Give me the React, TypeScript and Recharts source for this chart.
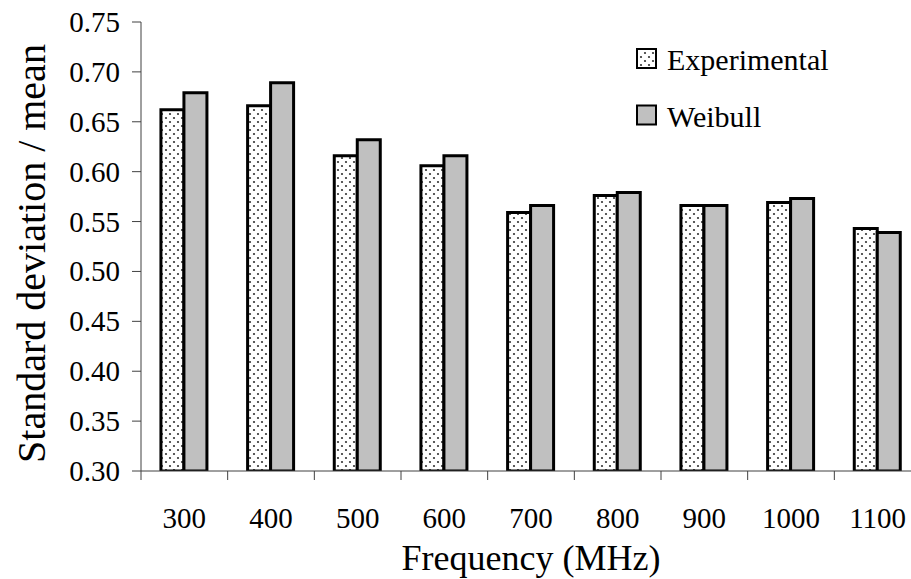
import React from 'react';
import { BarChart, Bar, XAxis, YAxis, Legend } from 'recharts';

const frequencies = ['300', '400', '500', '600', '700', '800', '900', '1000', '1100'];
const experimental = [0.662, 0.666, 0.616, 0.606, 0.559, 0.576, 0.566, 0.569, 0.543];
const weibull = [0.679, 0.689, 0.632, 0.616, 0.566, 0.579, 0.566, 0.573, 0.539];
const yTicks = [0.3, 0.35, 0.4, 0.45, 0.5, 0.55, 0.6, 0.65, 0.7, 0.75];
const seriesNames = ['Experimental', 'Weibull'];

const data = frequencies.map((f, i) => ({
  freq: f,
  Experimental: experimental[i],
  Weibull: weibull[i],
}));

const FONT = '"Liberation Serif", "Times New Roman", serif';
const AXIS_COLOR = '#404040';
const fills: Record<string, string> = {
  Experimental: 'url(#dots)',
  Weibull: '#c0c0c0',
};
const textStyle = { fontFamily: FONT };

const XTick = (props: any) => {
  const { x, y, payload } = props;
  const off = payload && typeof payload.offset === 'number' ? payload.offset : 0;
  const edge = x - off;
  return (
    <g>
      <line x1={edge} x2={edge} y1={y - 9} y2={y} stroke={AXIS_COLOR} strokeWidth={1} />
      <text x={x} y={y + 48} textAnchor="middle" style={textStyle} fontSize={29} fill="#000">
        {payload.value}
      </text>
    </g>
  );
};

const YTick = (props: any) => {
  const { x, y, payload } = props;
  return (
    <text x={x} y={y} textAnchor="end" dominantBaseline="central" style={textStyle} fontSize={29} fill="#000">
      {Number(payload.value).toFixed(2)}
    </text>
  );
};

const LegendContent = () => (
  <svg width={230} height={110} style={{ display: 'block' }}>
    {seriesNames.map((name, i) => (
      <g key={name}>
        <rect x={2} y={6 + i * 56.5} width={19} height={19} fill={fills[name]} stroke="#000" strokeWidth={2} />
        <text x={32} y={27 + i * 56.5} style={textStyle} fontSize={30} fill="#000">
          {name}
        </text>
      </g>
    ))}
  </svg>
);

export default function App() {
  return (
    <div style={{ position: 'absolute', left: 0, top: 0, width: 911, height: 579, overflow: 'hidden', background: '#fff', fontFamily: FONT }}>
      <svg width={0} height={0} style={{ position: 'absolute' }}>
        <defs>
          <pattern id="dots" patternUnits="userSpaceOnUse" width={8} height={8}>
            <rect x={0} y={0} width={8} height={8} fill="#fff" />
            <circle cx={2} cy={2} r={1.1} fill="#333" />
            <circle cx={6} cy={6} r={1.1} fill="#333" />
          </pattern>
        </defs>
      </svg>
      <BarChart
        width={930}
        height={579}
        data={data}
        margin={{ top: 22, right: 9, left: 0, bottom: 0 }}
        barCategoryGap="23%"
        barGap={0}
        style={{ fontFamily: FONT }}
      >
        <XAxis
          dataKey="freq"
          height={108}
          tickSize={9}
          tickMargin={0}
          tickLine={false}
          axisLine={{ stroke: AXIS_COLOR, strokeWidth: 1 }}
          tick={<XTick />}
          interval={0}
          label={{
            value: 'Frequency (MHz)',
            content: (p: any) => {
              const vb = p.viewBox || {};
              return (
                <text x={vb.x + vb.width / 2} y={vb.y + 99} textAnchor="middle" style={textStyle} fontSize={36} fill="#000">
                  Frequency (MHz)
                </text>
              );
            },
          }}
        />
        <YAxis
          width={141}
          domain={[0.3, 0.75]}
          ticks={yTicks}
          interval={0}
          allowDataOverflow
          tickSize={9}
          tickMargin={12}
          tick={<YTick />}
          tickLine={{ stroke: AXIS_COLOR, strokeWidth: 1 }}
          axisLine={{ stroke: AXIS_COLOR, strokeWidth: 1 }}
          label={{
            value: 'Standard deviation / mean',
            content: (p: any) => {
              const vb = p.viewBox || {};
              const cx = vb.x + 45;
              const cy = vb.y + vb.height / 2 + 7;
              return (
                <text
                  x={cx}
                  y={cy}
                  transform={`rotate(-90, ${cx}, ${cy})`}
                  textAnchor="middle"
                  style={textStyle}
                  fontSize={40}
                  fill="#000"
                >
                  Standard deviation / mean
                </text>
              );
            },
          }}
        />
        <Legend
          layout="vertical"
          align="center"
          verticalAlign="middle"
          content={<LegendContent />}
          wrapperStyle={{ position: 'absolute', left: 635, top: 43, width: 230, height: 110 }}
        />
        {seriesNames.map((name) => (
          <Bar
            key={name}
            dataKey={name}
            fill={fills[name]}
            stroke="#000"
            strokeWidth={3}
            isAnimationActive={false}
          />
        ))}
      </BarChart>
    </div>
  );
}
